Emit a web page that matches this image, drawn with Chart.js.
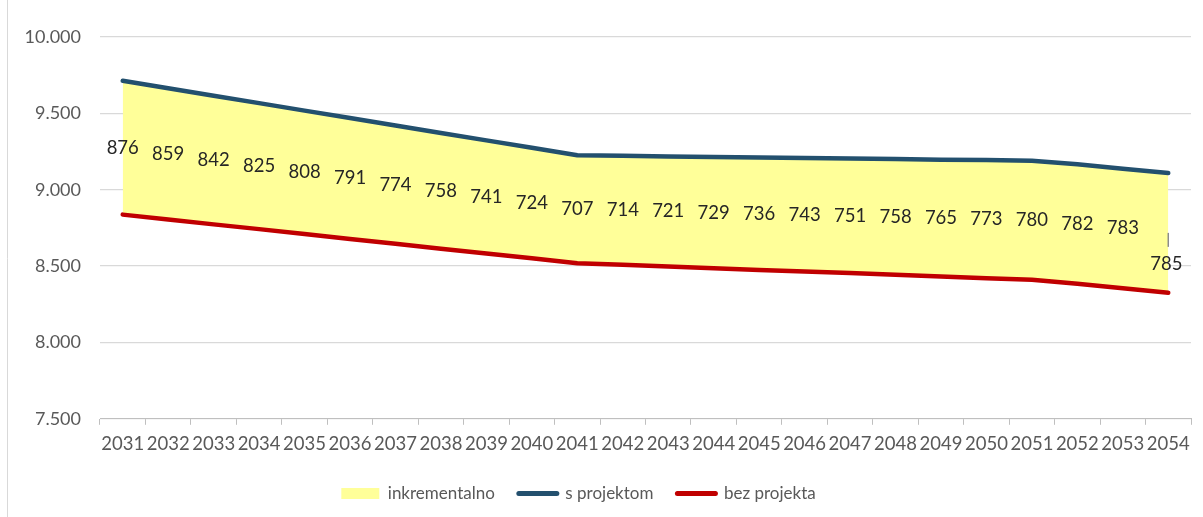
<!DOCTYPE html>
<html>
<head>
<meta charset="utf-8">
<title>inkrementalno</title>
<script src="https://cdn.jsdelivr.net/npm/chart.js@4.4.1/dist/chart.umd.min.js"></script>
<style>
  html, body { margin: 0; padding: 0; background: #fff; }
  #wrap { position: relative; width: 1203px; height: 517px; }
</style>
</head>
<body>
<div id="wrap"><canvas id="chart"></canvas></div>
<script>
"use strict";

// data
const years = ['2031','2032','2033','2034','2035','2036','2037','2038','2039','2040','2041','2042',
               '2043','2044','2045','2046','2047','2048','2049','2050','2051','2052','2053','2054'];

const sProjektom = [9713, 9664, 9615, 9567, 9518, 9469, 9420, 9372, 9323, 9275, 9226, 9222,
                    9218, 9215, 9211, 9207, 9205, 9201, 9197, 9194, 9190, 9167, 9138, 9110];

const bezProjekta = [8837, 8805, 8773, 8742, 8710, 8678, 8646, 8614, 8582, 8551, 8519, 8508,
                     8497, 8486, 8475, 8464, 8454, 8443, 8432, 8421, 8410, 8385, 8355, 8325];

const inkrementalno = [876, 859, 842, 825, 808, 791, 774, 758, 741, 724, 707, 714,
                       721, 729, 736, 743, 751, 758, 765, 773, 780, 782, 783, 785];

const yTicks = [7500, 8000, 8500, 9000, 9500, 10000];

const FONT = 'Lato';
const fmt = function (v) {
  return Math.floor(v / 1000) + '.' + String(v % 1000).padStart(3, '0');
};

// labels with the increment, centred between the two lines
const incLabels = {
  id: 'incLabels',
  afterDatasetsDraw(chart) {
    const ctx = chart.ctx;
    const xs = chart.scales.x, ys = chart.scales.y;
    ctx.save();
    ctx.font = '18.5px ' + FONT;
    ctx.fillStyle = '#262626';
    ctx.textAlign = 'center';
    ctx.textBaseline = 'middle';
    inkrementalno.forEach(function (v, i) {
      const px = xs.getPixelForValue(i);
      let py = ys.getPixelForValue((sProjektom[i] + bezProjekta[i]) / 2);
      if (i === inkrementalno.length - 1) {
        // last label was pushed down in the original, with a small leader line
        ctx.strokeStyle = '#8c8c8c';
        ctx.lineWidth = 1.5;
        ctx.beginPath();
        ctx.moveTo(px, py);
        ctx.lineTo(px, py + 14);
        ctx.stroke();
        py += 31;
        ctx.fillText(v, px - 2, py);
      } else {
        ctx.fillText(v, px, py);
      }
    });
    ctx.restore();
  }
};

const frame = {
  id: 'frame',
  beforeDraw(chart) {
    const ctx = chart.ctx;
    ctx.save();
    ctx.fillStyle = '#fff';
    ctx.fillRect(0, 0, chart.width, chart.height);
    ctx.strokeStyle = '#d9d9d9';
    ctx.lineWidth = 1;
    ctx.beginPath();
    ctx.moveTo(7.5, 0);
    ctx.lineTo(7.5, chart.height);
    ctx.stroke();
    ctx.restore();
  },
  afterLayout(chart) {
    // legend in the original sits a bit left of the canvas centre
    if (chart.legend) chart.legend.right -= 42;
  }
};

const ctx = document.getElementById('chart').getContext('2d');

const config = {
  type: 'line',
  data: {
    labels: years,
    datasets: [
      {
        label: 'inkrementalno',
        data: sProjektom,
        fill: 2,
        backgroundColor: '#ffff99',
        borderWidth: 0,
        pointRadius: 0,
        legendStyle: 'rect'
      },
      {
        label: 's projektom',
        data: sProjektom,
        fill: false,
        borderColor: '#23506e',
        borderWidth: 4.5,
        borderCapStyle: 'round',
        borderJoinStyle: 'round',
        pointRadius: 0,
        tension: 0
      },
      {
        label: 'bez projekta',
        data: bezProjekta,
        fill: false,
        borderColor: '#c00000',
        borderWidth: 4.5,
        borderCapStyle: 'round',
        borderJoinStyle: 'round',
        pointRadius: 0,
        tension: 0
      }
    ]
  },
  options: {
    responsive: true,
    maintainAspectRatio: false,
    animation: false,
    layout: { padding: { left: 8, right: 12, top: 37, bottom: 5 } },
    scales: {
      x: {
        offset: true,
        afterFit: function (scale) { scale.height -= 2; },
        grid: {
          offset: true,
          drawOnChartArea: false,
          drawTicks: true,
          tickLength: 6,
          color: '#bfbfbf'
        },
        border: { display: true, color: '#bfbfbf' },
        ticks: {
          autoSkip: false,
          maxRotation: 0,
          padding: 8,
          color: '#595959',
          font: { family: FONT, size: 18.5 }
        }
      },
      y: {
        min: 7500,
        max: 10000,
        afterBuildTicks: function (scale) {
          scale.ticks = yTicks.map(function (v) { return { value: v }; });
        },
        afterFit: function (scale) { scale.width = 92; },
        grid: { color: '#d9d9d9', drawTicks: false, lineWidth: 1.3 },
        border: { display: false },
        ticks: {
          padding: 19,
          color: '#595959',
          font: { family: FONT, size: 18 },
          callback: function (v) { return fmt(v); }
        }
      }
    },
    plugins: {
      filler: { drawTime: 'beforeDatasetsDraw' },
      tooltip: { enabled: false },
      legend: {
        position: 'bottom',
        labels: {
          usePointStyle: true,
          pointStyleWidth: 38,
          boxHeight: 11,
          padding: 24,
          color: '#595959',
          font: { family: FONT, size: 17 },
          generateLabels: function (chart) {
            return chart.data.datasets.map(function (ds, i) {
              const isRect = ds.legendStyle === 'rect';
              return {
                text: ds.label,
                datasetIndex: i,
                pointStyle: isRect ? 'rect' : 'line',
                fillStyle: isRect ? ds.backgroundColor : ds.borderColor,
                strokeStyle: isRect ? ds.backgroundColor : ds.borderColor,
                lineWidth: isRect ? 0 : 5,
                lineCap: 'round',
                fontColor: '#595959',
                hidden: false
              };
            });
          }
        }
      }
    }
  },
  plugins: [frame, incLabels]
};

const chart = new Chart(ctx, config);
</script>
</body>
</html>
